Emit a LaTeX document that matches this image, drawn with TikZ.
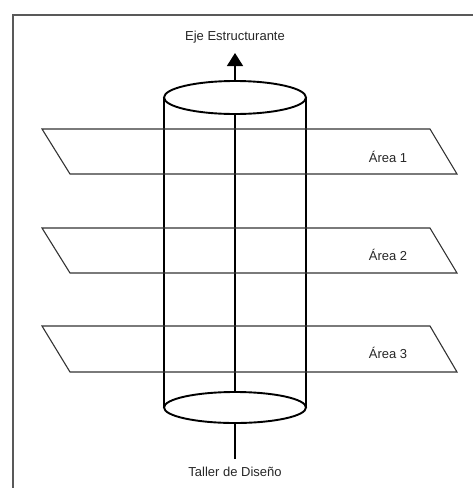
\documentclass[tikz,border=0pt]{standalone}
\usepackage{fontspec}
\setmainfont{Liberation Sans}
\usetikzlibrary{arrows.meta}
\begin{document}
\begin{tikzpicture}[x=1pt,y=-1pt,
  frameline/.style={draw=black!65,line width=1.8pt},
  cylline/.style={draw=black,line width=1.9pt},
  axisline/.style={draw=black,line width=1.4pt},
  plane/.style={draw=black!80,line width=1.1pt},
  lbl/.style={font=\fontsize{13}{15}\selectfont,text=black!85,inner sep=0pt}]
\useasboundingbox (0,0) rectangle (473,488);
% frame: top and left edges only
\draw[frameline] (473,15) -- (13,15) -- (13,488);
% axis end points
\coordinate (axbot) at (235,459);
\coordinate (axtop) at (235,53);
\node[lbl] (eje) at (235,37) {Eje Estructurante};
\node[lbl] (taller) at (235,472) {Taller de Diseño};
% structuring axis
\draw[axisline,-{Triangle[length=13pt,width=16pt]}] (axbot) -- (axtop);
% cylinder
\coordinate (ctop) at (235,97.5);
\coordinate (cbot) at (235,407.5);
\draw[cylline] (164,97.5) -- (164,407.5);
\draw[cylline] (306,97.5) -- (306,407.5);
\draw[cylline,fill=white] (ctop) ellipse [x radius=71, y radius=16.5];
\draw[cylline,fill=white] (cbot) ellipse [x radius=71, y radius=15.5];
% horizontal planes
\draw[plane] (42,129) -- (430,129) -- (457,174) -- (70,174) -- cycle;
\draw[plane] (42,228) -- (430,228) -- (457,273) -- (70,273) -- cycle;
\draw[plane] (42,326) -- (430,326) -- (457,372) -- (70,372) -- cycle;
\node[lbl] (a1) at (388,157) {Área 1};
\node[lbl] (a2) at (388,255) {Área 2};
\node[lbl] (a3) at (388,353) {Área 3};
\end{tikzpicture}
\end{document}
